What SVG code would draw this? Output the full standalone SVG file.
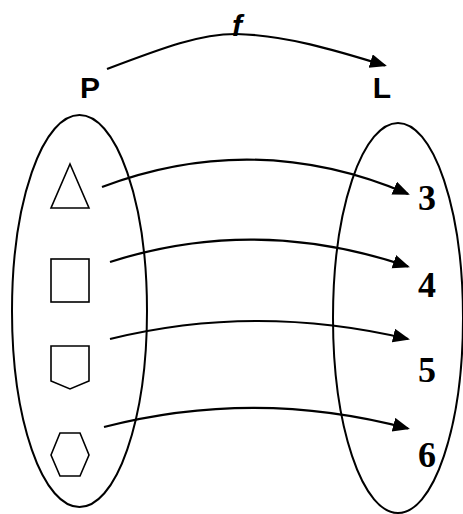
<svg xmlns="http://www.w3.org/2000/svg" width="463" height="514" viewBox="0 0 463 514">
<style>
.set{fill:none;stroke:#000;stroke-width:2}
.shape{fill:#fff;stroke:#000;stroke-width:1.6}
.conn{fill:none;stroke:#000;stroke-width:2.2}
.lbl{font-family:"Liberation Sans",Arial,sans-serif;font-weight:bold;font-size:30px;fill:#000}
.num{font-family:"Liberation Serif","Times New Roman",serif;font-weight:bold;font-size:36px;fill:#000}
</style>
<defs>
<marker id="ah" markerUnits="userSpaceOnUse" markerWidth="20" markerHeight="16" refX="15" refY="7" orient="auto">
<path d="M0,0 L17,7 L0,14 Z" fill="#000"/>
</marker>
</defs>
<g id="setP">
<ellipse class="set" cx="79.5" cy="311" rx="67.5" ry="196"/>
<text class="lbl" x="90" y="98" text-anchor="middle">P</text>
</g>
<g id="setL">
<ellipse class="set" cx="398" cy="318" rx="65" ry="195"/>
<text class="lbl" x="382" y="98" text-anchor="middle">L</text>
</g>
<g id="triangle"><polygon class="shape" points="70,164 89,208 51,208"/></g>
<g id="square"><rect class="shape" x="51" y="259" width="38" height="43"/></g>
<g id="pentagon"><polygon class="shape" points="51,346 89,346 89,381 70,389 51,381"/></g>
<g id="hexagon"><polygon class="shape" points="51,455 60,433 80,433 89,455 80,476 60,476"/></g>
<g id="n3"><text class="num" x="427" y="210" text-anchor="middle">3</text></g>
<g id="n4"><text class="num" x="427" y="297" text-anchor="middle">4</text></g>
<g id="n5"><text class="num" x="427" y="382" text-anchor="middle">5</text></g>
<g id="n6"><text class="num" x="427" y="467" text-anchor="middle">6</text></g>
<g id="connectors">
<path class="conn" d="M107,69 C165,47 200,34 236,34 C285,35 335,50 385,65.5" marker-end="url(#ah)"/>
<text class="lbl" x="237" y="36" text-anchor="middle" font-style="italic" font-size="32">f</text>
<path class="conn" d="M102,187 Q256,129 408,194" marker-end="url(#ah)"/>
<path class="conn" d="M110,262 Q256,215 408,266.5" marker-end="url(#ah)"/>
<path class="conn" d="M110,339 Q256,303 408,339" marker-end="url(#ah)"/>
<path class="conn" d="M104,427 Q256,388 408,428.5" marker-end="url(#ah)"/>
</g>
</svg>
